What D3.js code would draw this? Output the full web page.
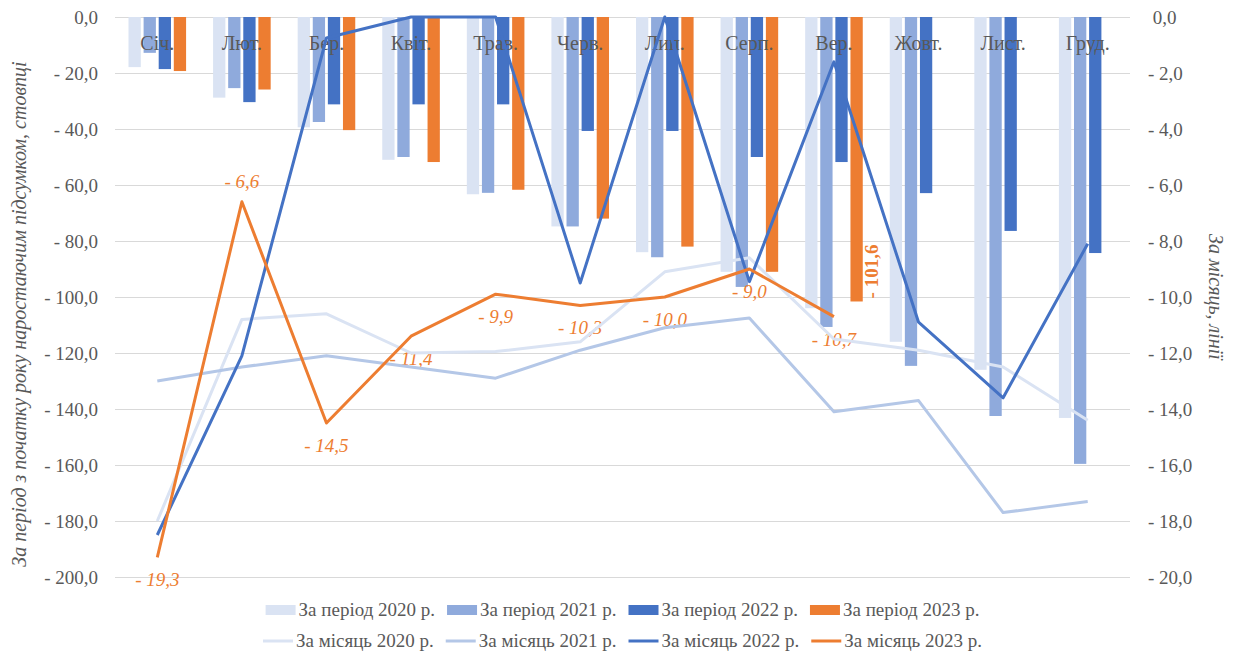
<!DOCTYPE html>
<html>
<head>
<meta charset="utf-8">
<script src="https://cdn.jsdelivr.net/npm/d3@7"></script>
<style>
  body { margin: 0; background: #fff; }
  svg { display: block; }
  svg text { font-family: "Liberation Serif", Tinos, "Times New Roman", Times, "DejaVu Serif", serif; }
</style>
</head>
<body>
<div id="chart"></div>
<script>
// months
const months = ['Січ.', 'Лют.', 'Бер.', 'Квіт.', 'Трав.', 'Черв.', 'Лип.', 'Серп.', 'Вер.', 'Жовт.', 'Лист.', 'Груд.']

// cumulative since start of year (bars, left axis)
const period2020 = [-17.9, -28.8, -39.4, -51.0, -63.3, -74.8, -84.0, -91.0, -104.0, -116.0, -126.0, -143.2]
const period2021 = [-12.8, -25.4, -37.5, -50.0, -62.8, -74.8, -85.8, -96.4, -110.7, -124.6, -142.5, -159.6]
const period2022 = [-18.6, -30.4, -31.2, -31.2, -31.2, -40.7, -40.7, -50.0, -51.8, -62.9, -76.4, -84.3]
const period2023 = [-19.3, -25.9, -40.4, -51.8, -61.7, -72.0, -82.0, -91.0, -101.6]

// monthly values (lines, right axis)
const month2020 = [-18.0, -10.8, -10.6, -12.0, -11.95, -11.6, -9.1, -8.6, -11.5, -11.9, -12.5, -14.4]
const month2021 = [-13.0, -12.5, -12.1, -12.5, -12.9, -11.9, -11.1, -10.75, -14.1, -13.7, -17.7, -17.3]
const month2022 = [-18.5, -12.1, -0.75, 0.0, 0.0, -9.5, 0.0, -9.45, -1.6, -10.9, -13.6, -8.1]
const month2023 = [-19.3, -6.6, -14.5, -11.4, -9.9, -10.3, -10.0, -9.0, -10.7]

const leftTicks = [0, -20, -40, -60, -80, -100, -120, -140, -160, -180, -200]
const rightTicks = [0, -2, -4, -6, -8, -10, -12, -14, -16, -18, -20]

const barSeries = [
    { name: 'За період 2020 р.', values: period2020, color: '#dae3f3' },
    { name: 'За період 2021 р.', values: period2021, color: '#8faadc' },
    { name: 'За період 2022 р.', values: period2022, color: '#4472c4' },
    { name: 'За період 2023 р.', values: period2023, color: '#ed7d31' }
]
const lineSeries = [
    { name: 'За місяць 2020 р.', values: month2020, color: '#dae3f3' },
    { name: 'За місяць 2021 р.', values: month2021, color: '#b4c7e7' },
    { name: 'За місяць 2022 р.', values: month2022, color: '#4472c4' },
    { name: 'За місяць 2023 р.', values: month2023, color: '#ed7d31' }
]

const W = 1237, H = 654
const plot = { left: 115, right: 1130, top: 17, bottom: 577 }
const grey = '#595959'

const fmt = v => v === 0 ? '0,0' : '- ' + d3.format('.1f')(Math.abs(v)).replace('.', ',')

const svg = d3.select('#chart').append('svg')
    .attr('width', W)
    .attr('height', H)

const x = d3.scaleBand().domain(months).range([plot.left, plot.right]).padding(0)
const xIn = d3.scaleBand().domain(d3.range(4))
    .range([-30.2, 30.2]).paddingInner(0.186).paddingOuter(0.093)
const yL = d3.scaleLinear().domain([0, -200]).range([plot.top, plot.bottom])
const yR = d3.scaleLinear().domain([0, -20]).range([plot.top, plot.bottom])
const cx = m => x(m) + x.bandwidth() / 2

// gridlines
svg.append('g')
    .attr('transform', `translate(${plot.left},0)`)
    .call(d3.axisLeft(yL).tickValues(leftTicks).tickSize(-(plot.right - plot.left)).tickFormat(''))
    .call(g => g.select('.domain').remove())
    .call(g => g.selectAll('line').attr('stroke', '#d9d9d9'))

// left axis
svg.append('g')
    .attr('transform', `translate(${plot.left},0)`)
    .call(d3.axisLeft(yL).tickValues(leftTicks).tickSize(0).tickPadding(17).tickFormat(fmt))
    .call(g => g.select('.domain').remove())
    .call(g => g.selectAll('text').attr('fill', grey).attr('font-size', 19))

// right axis
svg.append('g')
    .attr('transform', `translate(${plot.right},0)`)
    .call(d3.axisRight(yR).tickValues(rightTicks).tickSize(0).tickPadding(18)
        .tickFormat(v => v === 0 ? '\u00a00,0' : fmt(v)))
    .call(g => g.select('.domain').remove())
    .call(g => g.selectAll('text').attr('fill', grey).attr('font-size', 19))

// bars
barSeries.forEach((s, i) => {
    svg.append('g').selectAll('rect')
        .data(s.values)
        .join('rect')
        .attr('x', (d, j) => cx(months[j]) + xIn(i))
        .attr('width', xIn.bandwidth())
        .attr('y', yL(0))
        .attr('height', d => yL(d) - yL(0))
        .attr('fill', s.color)
})

// category labels inside the plot
svg.append('g').selectAll('text')
    .data(months)
    .join('text')
    .attr('x', d => cx(d))
    .attr('y', 50)
    .attr('text-anchor', 'middle')
    .attr('font-size', 20)
    .attr('fill', grey)
    .text(d => d)

// data labels for 2023 monthly line
const lbl = svg.append('g')
lbl.selectAll('text')
    .data(month2023)
    .join('text')
    .attr('x', (d, j) => cx(months[j]))
    .attr('y', (d, j) => j === 1 ? yR(d) - 14 : yR(d) + 29)
    .attr('text-anchor', 'middle')
    .attr('font-size', 19)
    .attr('font-style', 'italic')
    .attr('fill', '#ed7d31')
    .text(d => fmt(d))

// last cumulative 2023 value, rotated
const lastIdx = period2023.length - 1
lbl.append('text')
    .attr('transform', `translate(${cx(months[lastIdx]) + xIn(3) + xIn.bandwidth() + 15},${yL(period2023[lastIdx]) - 30}) rotate(-90)`)
    .attr('text-anchor', 'middle')
    .attr('font-size', 19)
    .attr('font-weight', 'bold')
    .attr('fill', '#ed7d31')
    .text(fmt(period2023[lastIdx]))

// lines
const line = d3.line()
    .x((d, j) => cx(months[j]))
    .y(d => yR(d))

lineSeries.forEach(s => {
    svg.append('path')
        .datum(s.values)
        .attr('d', line)
        .attr('fill', 'none')
        .attr('stroke', s.color)
        .attr('stroke-width', 3)
        .attr('stroke-linejoin', 'round')
})

// axis titles
svg.append('text')
    .attr('transform', `translate(26,${(plot.top + plot.bottom) / 2 + 17}) rotate(-90)`)
    .attr('text-anchor', 'middle')
    .attr('font-size', 20)
    .attr('font-style', 'italic')
    .attr('fill', grey)
    .text('За період з початку року наростаючим підсумком, стовпці')

svg.append('text')
    .attr('transform', `translate(1209,${(plot.top + plot.bottom) / 2}) rotate(90)`)
    .attr('text-anchor', 'middle')
    .attr('font-size', 20)
    .attr('font-style', 'italic')
    .attr('fill', grey)
    .text('За місяць, лінії')

// legend, two rows, centred under the plot
function legendRow(items, y, isLine) {
    const g = svg.append('g')
    let pos = 0
    items.forEach(s => {
        const item = g.append('g').attr('transform', `translate(${pos},0)`)
        if (isLine) {
            item.append('line')
                .attr('x1', 0).attr('x2', 30)
                .attr('y1', y).attr('y2', y)
                .attr('stroke', s.color).attr('stroke-width', 3)
        } else {
            item.append('rect')
                .attr('x', 0).attr('y', y - 5)
                .attr('width', 30).attr('height', 10)
                .attr('fill', s.color)
        }
        const t = item.append('text')
            .attr('x', 33)
            .attr('y', y)
            .attr('dy', '0.33em')
            .attr('font-size', 19)
            .attr('fill', grey)
            .text(s.name)
        pos += 33 + t.node().getComputedTextLength() + 12
    })
    const w = pos - 12
    g.attr('transform', `translate(${(plot.left + plot.right) / 2 - w / 2},0)`)
}
legendRow(barSeries, 610, false)
legendRow(lineSeries, 641, true)
</script>
</body>
</html>
